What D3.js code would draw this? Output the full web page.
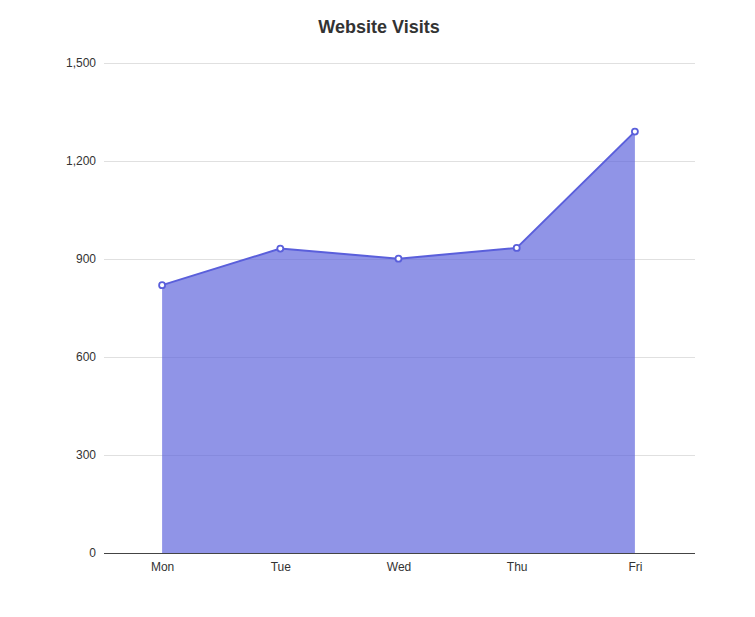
<!DOCTYPE html>
<html lang="en">
<head>
<meta charset="utf-8">
<title>Website Visits</title>
<script src="https://cdn.jsdelivr.net/npm/d3@7"></script>
<style>
  body { margin: 0; background: #fff; font-family: "Liberation Sans", Arial, Helvetica, sans-serif; }
</style>
</head>
<body>
<div id="chart"></div>
<script>
var days = ["Mon", "Tue", "Wed", "Thu", "Fri"]
var visits = [820, 932, 901, 934, 1290]
var yTicks = [0, 300, 600, 900, 1200, 1500]

var width = 755, height = 617
var margin = {top: 63, right: 60, bottom: 64, left: 104}

var svg = d3.select("#chart").append("svg")
  .attr("width", width).attr("height", height)

var x = d3.scalePoint()
  .domain(days)
  .range([margin.left - 1, width - margin.right - 1])
  .padding(0.5)

var y = d3.scaleLinear()
  .domain([0, 1500])
  .range([height - margin.bottom, margin.top])

// title
svg.append("text")
  .attr("x", 379).attr("y", 33)
  .attr("text-anchor", "middle")
  .style("font-size", "18px").style("font-weight", "bold")
  .style("fill", "#333")
  .text("Website Visits")

// grid lines + y labels
var yAxis = svg.append("g")
  .attr("transform", "translate(" + margin.left + ",0)")
  .call(d3.axisLeft(y).tickValues(yTicks)
    .tickSize(-(width - margin.left - margin.right))
    .tickPadding(8)
    .tickFormat(d3.format(",")))
yAxis.select(".domain").remove()
yAxis.selectAll(".tick line").attr("stroke", "#e0e0e0")
yAxis.selectAll(".tick text").style("font-size", "12px").style("fill", "#333")
  .style("font-family", "\"Liberation Sans\", Arial, sans-serif")

// area
var area = d3.area()
  .x(function(d, i){ return x(days[i]) })
  .y0(y(0))
  .y1(function(d){ return y(d) })

svg.append("path")
  .datum(visits)
  .attr("d", area)
  .attr("fill", "#5b61dc")
  .attr("fill-opacity", 0.68)

var line = d3.line()
  .x(function(d, i){ return x(days[i]) })
  .y(function(d){ return y(d) })

svg.append("path")
  .datum(visits)
  .attr("d", line)
  .attr("fill", "none")
  .attr("stroke", "#5a5fdb")
  .attr("stroke-width", 2)

// x axis
var xAxis = svg.append("g")
  .attr("transform", "translate(0," + y(0) + ")")
  .call(d3.axisBottom(x).tickSize(0).tickPadding(9))
xAxis.select(".domain")
  .attr("d", "M" + margin.left + ",0.5H" + (width - margin.right))
  .attr("stroke", "#444")
xAxis.selectAll(".tick text").style("font-size", "12px").style("fill", "#333")
  .style("font-family", "\"Liberation Sans\", Arial, sans-serif")

// points
svg.selectAll("circle.pt")
  .data(visits)
  .enter()
  .append("circle")
  .attr("class", "pt")
  .attr("cx", function(d, i){ return x(days[i]) })
  .attr("cy", function(d){ return y(d) })
  .attr("r", 3)
  .attr("fill", "#fff")
  .attr("stroke", "#5a5fdb")
  .attr("stroke-width", 1.8)
</script>
</body>
</html>
